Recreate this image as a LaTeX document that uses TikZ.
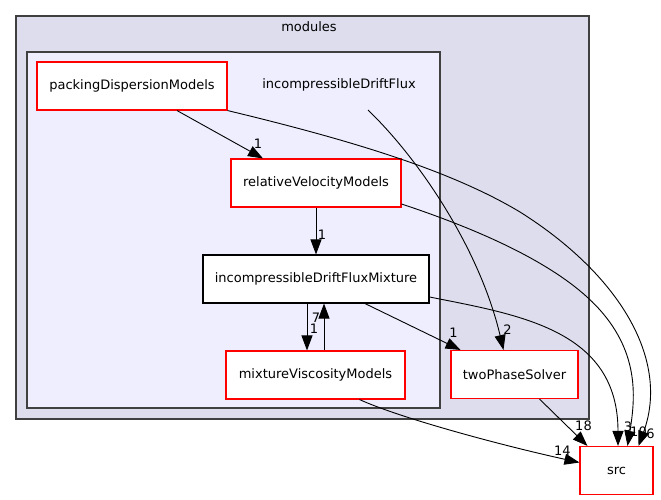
\documentclass[tikz,border=0pt]{standalone}
\usepackage{fontspec}
\setmainfont{DejaVu Sans}
\usetikzlibrary{arrows.meta, positioning}
\definecolor{outerfill}{HTML}{DDDDEE}
\definecolor{innerfill}{HTML}{EEEEFF}
\definecolor{framegray}{HTML}{404040}
\definecolor{dirred}{HTML}{FF0000}
\tikzstyle{dirbox} = [rectangle, minimum height=48pt, inner sep=0pt, text centered, draw=dirred, fill=white, line width=1.1pt]
\tikzstyle{dirmain} = [dirbox, draw=black]
\tikzstyle{cluster} = [draw=framegray, line width=1.4pt]
\tikzstyle{arrow} = [line width=0.9pt, -{Triangle[length=15pt,width=11pt]}]
\tikzstyle{lbl} = [inner sep=0pt, font=\fontsize{13}{15}\selectfont]

\begin{document}
\begin{tikzpicture}[x=1pt, y=-1pt, font=\fontsize{13}{15}\selectfont]
\useasboundingbox (0,0) rectangle (661,500);

%% clusters
\draw [cluster, fill=outerfill] (16,16) rectangle (589,419);
\node (modules) at (309,27) {modules};
\draw [cluster, fill=innerfill] (27,52) rectangle (440,408);
\node (idf) at (339,85) {incompressibleDriftFlux};
\coordinate (idfout) at (368,110);

%% directories
\node (pdm) [dirbox, minimum width=190pt] at (132,86) {packingDispersionModels};
\node (rvm) [dirbox, minimum width=170pt] at (316,183) {relativeVelocityModels};
\node (idfm) [dirmain, minimum width=226pt] at (316,279) {incompressibleDriftFluxMixture};
\node (mvm) [dirbox, minimum width=179pt] at (315.5,375) {mixtureViscosityModels};
\node (tps) [dirbox, minimum width=127pt] at (514.5,374.5) {twoPhaseSolver};
\node (src) [dirbox, minimum width=73pt] at (616.5,470.5) {src};

%% dependencies
\draw [arrow] ([xshift=45pt]pdm.south) -- ([xshift=-53pt]rvm.north) node[lbl, pos=1, xshift=-5pt, yshift=15pt] {1};
\draw [arrow] (rvm.south) -- (idfm.north) node[lbl, pos=1, xshift=6pt, yshift=20pt] {1};
\draw [arrow] ([xshift=-9pt]idfm.south) -- ([xshift=-8.5pt]mvm.north) node[lbl, pos=1, xshift=7pt, yshift=22pt] {1};
\draw [arrow] ([xshift=8.5pt]mvm.north) -- ([xshift=8pt]idfm.south) node[lbl, pos=1, xshift=-8pt, yshift=-14pt] {7};
\draw [arrow] ([xshift=49pt]idfm.south) -- ([xshift=-54pt]tps.north) node[lbl, pos=1, xshift=-7pt, yshift=17pt] {1};
\draw [arrow] (idfout) .. controls (420,160) and (480,250) .. ([xshift=-11pt]tps.north) node[lbl, pos=1, xshift=4pt, yshift=20pt] {2};
\draw [arrow] ([xshift=25pt]tps.south) -- ([xshift=-29pt]src.north) node[lbl, pos=1, xshift=-4pt, yshift=20pt] {18};
\draw [arrow] ([xshift=44pt]mvm.south) .. controls (400,418) and (500,445) .. ([yshift=8pt]src.west) node[lbl, pos=1, xshift=-17pt, yshift=12pt] {14};
\draw [arrow] ([yshift=-18pt]idfm.east) .. controls (520,315) and (618,330) .. ([xshift=1.5pt]src.north) node[lbl, pos=1, xshift=10pt, yshift=19pt] {3};
\draw [arrow] ([yshift=-21pt]rvm.east) .. controls (480,230) and (560,265) .. (600,310) .. controls (640,355) and (635,400) .. ([xshift=11pt]src.north) node[lbl, pos=1, xshift=11pt, yshift=14pt] {10};
\draw [arrow] (pdm.south east) .. controls (350,140) and (450,170) .. (520,212) .. controls (620,275) and (670,360) .. ([xshift=22pt]src.north) node[lbl, pos=1, xshift=12pt, yshift=12pt] {6};

\end{tikzpicture}
\end{document}
